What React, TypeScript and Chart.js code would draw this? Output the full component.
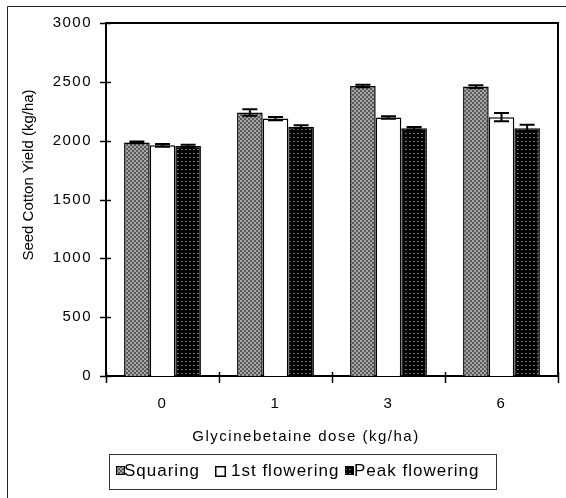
import { useEffect, useRef } from "react";
import { Chart, registerables } from "chart.js";

Chart.register(...registerables);

const categories = ["0", "1", "3", "6"];
const seriesNames = ["Squaring", "1st flowering", "Peak flowering"];
const squaring = [1985, 2240, 2465, 2460];
const firstFlowering = [1960, 2188, 2197, 2200];
const peakFlowering = [1955, 2118, 2105, 2105];
const squaringErr = [8, 28, 10, 12];
const firstFloweringErr = [12, 14, 10, 36];
const peakFloweringErr = [10, 12, 12, 30];
const yTicks = [0, 500, 1000, 1500, 2000, 2500, 3000];
const xTitle = "Glycinebetaine dose (kg/ha)";
const yTitle = "Seed Cotton Yield (kg/ha)";

const FONT = "'Liberation Sans', Arial, sans-serif";

function makePattern(kind: string): CanvasPattern | string {
  const c = document.createElement("canvas");
  c.width = 4;
  c.height = 4;
  const g = c.getContext("2d");
  if (!g) return "#777";
  if (kind === "checker") {
    g.fillStyle = "#5a5a5a";
    g.fillRect(0, 0, 4, 4);
    g.fillStyle = "#a6a6a6";
    g.fillRect(0, 0, 2, 2);
    g.fillRect(2, 2, 2, 2);
  } else {
    g.fillStyle = "#000";
    g.fillRect(0, 0, 4, 4);
    g.fillStyle = "#8a8a8a";
    g.fillRect(1, 1, 1, 1);
    g.fillStyle = "#5a5a5a";
    g.fillRect(2, 1, 1, 1);
  }
  const p = g.createPattern(c, "repeat");
  return p || "#777";
}

export default function App() {
  const ref = useRef<HTMLCanvasElement | null>(null);

  useEffect(() => {
    if (!ref.current) return;
    const checker = makePattern("checker");
    const dots = makePattern("dots");
    const fills = [checker, "#ffffff", dots];
    const errs = [squaringErr, firstFloweringErr, peakFloweringErr];

    const deco = {
      id: "deco",
      beforeDraw(chart: any) {
        (chart.ctx as any).letterSpacing = "1.5px";
      },
      afterDraw(chart: any) {
        const ctx = chart.ctx as CanvasRenderingContext2D;
        const area = chart.chartArea;
        const xs = chart.scales.x;
        const ys = chart.scales.y;
        ctx.save();
        // outer frame (left + top)
        ctx.strokeStyle = "#222";
        ctx.lineWidth = 1;
        ctx.beginPath();
        ctx.moveTo(7.5, 498);
        ctx.lineTo(7.5, 6.5);
        ctx.lineTo(566, 6.5);
        ctx.stroke();

        // error bars
        ctx.strokeStyle = "#000";
        ctx.lineWidth = 2;
        for (let d = 0; d < 3; d++) {
          const meta = chart.getDatasetMeta(d);
          const vals = chart.data.datasets[d].data as number[];
          meta.data.forEach((bar: any, i: number) => {
            const v = vals[i];
            const e = errs[d][i];
            const yt = ys.getPixelForValue(v + e);
            const yb = ys.getPixelForValue(v - e);
            const x = bar.x;
            ctx.beginPath();
            ctx.moveTo(x, yt);
            ctx.lineTo(x, yb);
            ctx.moveTo(x - 7.5, yt);
            ctx.lineTo(x + 7.5, yt);
            ctx.moveTo(x - 7.5, yb);
            ctx.lineTo(x + 7.5, yb);
            ctx.stroke();
          });
        }

        // plot box top & right
        ctx.lineWidth = 2;
        ctx.beginPath();
        ctx.moveTo(area.left, area.top);
        ctx.lineTo(area.right, area.top);
        ctx.lineTo(area.right, area.bottom);
        ctx.stroke();

        // y tick marks (crossing)
        ctx.lineWidth = 1.5;
        yTicks.forEach((v) => {
          const y = Math.round(ys.getPixelForValue(v)) + 0.5;
          ctx.beginPath();
          ctx.moveTo(area.left - 6, y);
          ctx.lineTo(area.left + 5, y);
          ctx.stroke();
        });
        // x tick marks at category boundaries
        const half = (xs.getPixelForValue(1) - xs.getPixelForValue(0)) / 2;
        for (let i = 0; i <= categories.length; i++) {
          const x = Math.round(xs.getPixelForValue(i) - half) + 0.5;
          ctx.beginPath();
          ctx.moveTo(x, area.bottom - 4);
          ctx.lineTo(x, area.bottom + 7);
          ctx.stroke();
        }

        // x title
        ctx.fillStyle = "#000";
        (ctx as any).letterSpacing = "1.5px";
        ctx.font = `15px ${FONT}`;
        ctx.textAlign = "center";
        ctx.textBaseline = "alphabetic";
        ctx.fillText(xTitle, 306, 441);

        // y title
        (ctx as any).letterSpacing = "0px";
        ctx.save();
        ctx.translate(33, 175);
        ctx.rotate(-Math.PI / 2);
        ctx.textAlign = "center";
        ctx.fillText(yTitle, 0, 0);
        ctx.restore();

        // legend
        ctx.strokeStyle = "#333";
        ctx.lineWidth = 1;
        ctx.strokeRect(109.5, 454.5, 387, 35);
        const markerX = [116, 215, 345];
        const textX = [124, 231, 354];
        (ctx as any).letterSpacing = "1px";
        ctx.font = `17px ${FONT}`;
        ctx.textAlign = "left";
        for (let k = 0; k < 3; k++) {
          const mx = markerX[k];
          if (k === 1) {
            ctx.fillStyle = "#fff";
            ctx.fillRect(mx, 466, 11, 11);
            ctx.strokeStyle = "#000";
            ctx.lineWidth = 1.5;
            ctx.strokeRect(mx + 0.75, 466.75, 9.5, 9.5);
          } else {
            ctx.fillStyle = fills[k] as any;
            ctx.fillRect(mx, 466, 9, 9);
            ctx.strokeStyle = "#000";
            ctx.lineWidth = 1;
            ctx.strokeRect(mx + 0.5, 466.5, 8, 8);
          }
          ctx.fillStyle = "#000";
          ctx.fillText(seriesNames[k], textX[k], 476);
        }
        ctx.restore();
      },
    };

    const chart = new Chart(ref.current, {
      type: "bar",
      data: {
        labels: categories,
        datasets: [
          { label: seriesNames[0], data: squaring, backgroundColor: fills[0] as any },
          { label: seriesNames[1], data: firstFlowering, backgroundColor: fills[1] as any },
          { label: seriesNames[2], data: peakFlowering, backgroundColor: fills[2] as any },
        ].map((d) => ({
          ...d,
          borderColor: "#000",
          borderWidth: 1.5,
          categoryPercentage: 0.68,
          barPercentage: 1.0,
        })),
      },
      options: {
        responsive: false,
        animation: false,
        devicePixelRatio: 1,
        layout: { padding: { left: 0, right: 8, top: 22, bottom: 0 } },
        plugins: {
          legend: { display: false },
          tooltip: { enabled: false },
        },
        scales: {
          x: {
            afterFit: (s: any) => {
              s.height = 122;
            },
            grid: { display: false, drawTicks: false },
            border: { display: true, color: "#000", width: 2 },
            ticks: {
              color: "#000",
              font: { family: FONT, size: 15 },
              padding: 19,
            },
          },
          y: {
            min: 0,
            max: 3000,
            afterFit: (s: any) => {
              s.width = 106;
            },
            afterBuildTicks: (s: any) => {
              s.ticks = yTicks.map((v) => ({ value: v }));
            },
            grid: { display: false, drawTicks: false },
            border: { display: true, color: "#000", width: 2 },
            ticks: {
              color: "#000",
              font: { family: FONT, size: 15 },
              padding: 14,
              callback: (v: any) => String(v),
            },
          },
        },
      },
      plugins: [deco],
    });
    return () => chart.destroy();
  }, []);

  return (
    <div style={{ position: "absolute", left: 0, top: 0, width: 566, height: 498, background: "#fff" }}>
      <canvas ref={ref} width={566} height={498} />
    </div>
  );
}
